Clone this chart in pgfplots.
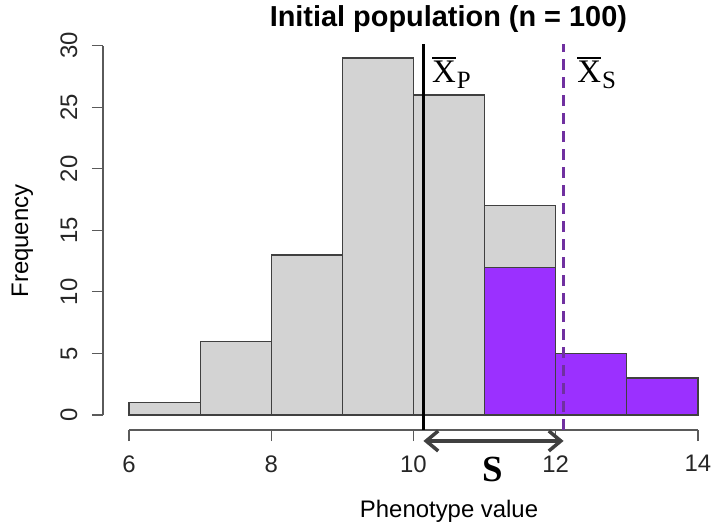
\documentclass[border=0pt]{standalone}
\usepackage{fontspec}
\setmainfont{Liberation Sans}
\newfontfamily\serifX{Liberation Serif}
\usepackage{pgfplots}
\pgfplotsset{compat=1.18}
\usetikzlibrary{arrows.meta}
\definecolor{barGray}{RGB}{211,211,211}
\definecolor{purpleA}{RGB}{155,48,255}
\definecolor{purpleLine}{RGB}{112,48,160}
\definecolor{axisGray}{RGB}{90,90,90}
\definecolor{arrowGray}{RGB}{64,64,64}
\newcommand{\ovl}[1]{\leavevmode\vbox{\hrule height 1.6bp \kern 2.5bp \hbox{#1}}}
\newcommand{\xbar}[1]{{\serifX\fontsize{33}{38}\selectfont\ovl{X}\kern1bp\raisebox{-6bp}{\fontsize{25}{30}\selectfont #1}}}
\begin{document}
\begin{tikzpicture}
\begin{axis}[
  x=71.125bp, y=12.31bp,
  xmin=5.634, xmax=14.3, ymin=-1.22, ymax=31,
  axis x line*=bottom, axis y line*=left,
  axis line style={draw=none},
  clip=false,
  xtick={6,8,10,12,14}, ytick={0,5,...,30},
  tick align=outside, major tick length=11bp,
  tick style={axisGray, line width=1.2bp},
  ticklabel style={font=\fontsize{24}{28}\selectfont, text=black!85, /pgf/number format/assume math mode=true},
  yticklabel style={rotate=90, anchor=south},
  yticklabel shift=11bp,
  xticklabel shift=11bp,
]
\coordinate (O) at (axis cs:6,0);
\draw[axisGray, line width=1.2bp] (axis cs:6,-1.22) -- (axis cs:14,-1.22);
\draw[axisGray, line width=1.2bp] (axis cs:5.634,0) -- (axis cs:5.634,30);
\addplot[ybar interval, fill=barGray, draw=black!75, line width=1.2bp] coordinates {(6,1)(7,6)(8,13)(9,29)(10,26)(11,17)(12,0)};
\addplot[ybar interval, fill=purpleA, draw=black!75, line width=1.2bp] coordinates {(11,12)(12,5)(13,3)(14,0)};
\addplot[black, line width=3bp] coordinates {(10.14,-1.22)(10.14,30.1)};
\addplot[purpleLine, line width=3bp, dash pattern=on 11bp off 7bp] coordinates {(12.11,-1.22)(12.11,30.1)};
\addplot[arrowGray, line width=3.5bp, {Straight Barb[length=12bp,width=20bp]}-{Straight Barb[length=12bp,width=20bp]}] coordinates {(10.14,-2.11)(12.11,-2.11)};
\node[anchor=base, font=\bfseries\fontsize{29}{34}\selectfont] at (axis cs:10.49,31.52) {Initial population (n = 100)};
\node[anchor=base, font=\fontsize{24}{28}\selectfont] at (axis cs:10.5,-8.29) {Phenotype value};
\node[anchor=base, rotate=90, font=\fontsize{24}{28}\selectfont] at (axis cs:4.58,14.13) {Frequency};
\node[anchor=base west, inner sep=0pt] at (axis cs:10.26,26.97) {\xbar{P}};
\node[anchor=base west, inner sep=0pt] at (axis cs:12.30,26.97) {\xbar{S}};
\node[anchor=base, font=\serifX\bfseries\fontsize{37}{42}\selectfont] at (axis cs:11.118,-5.44) {S};
\end{axis}
\pgfresetboundingbox
\path ([shift={(-129bp,-109bp)}]O) rectangle ([shift={(587bp,415bp)}]O);
\end{tikzpicture}
\end{document}
